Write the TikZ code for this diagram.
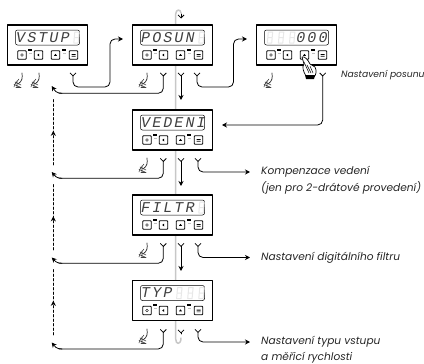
\documentclass[tikz,border=0pt]{standalone}
\usepackage{fontspec}
\setmainfont{Poppins}
\newfontfamily\segfont[LetterSpace=14]{Liberation Mono}
\usetikzlibrary{arrows.meta,decorations.markings,calc}

\tikzset{
	panel/.style={draw, line width=1.2pt, fill=white, minimum width=80pt, minimum height=40pt, inner sep=0pt},
	screen/.style={draw, line width=0.5pt, rounded corners=2pt, minimum width=64pt, minimum height=15pt, inner sep=0pt},
	button/.style={draw, line width=0.8pt, rounded corners=0.8pt, fill=white, minimum size=8.5pt, inner sep=0pt},
	word/.style={font=\segfont\itshape\fontsize{15}{15}\selectfont, text=black!75, inner sep=0pt, anchor=west},
	note/.style={font=\itshape\fontsize{10.6}{12}\selectfont, text=black!85, inner sep=0pt, anchor=west},
	conn/.style={line width=0.8pt, rounded corners=5pt, {Straight Barb[reversed,length=3pt,width=6pt]}-{Stealth[length=5pt,width=5pt]}},
	back/.style={line width=0.8pt, rounded corners=5pt, {Straight Barb[reversed,length=3pt,width=6pt]}-},
	guide/.style={draw=black!22, line width=1.5pt, line cap=round},
	dotline/.style={line width=0.8pt, dashed, dash pattern=on 2.5pt off 2pt, postaction={decorate},
		decoration={markings, mark=at position #1 with {\arrow[solid]{Stealth[length=5pt,width=5pt]}}}},
	relax/.pic={
		\draw[line width=0.7pt, black!85] (0,0) .. controls (0.5,5) and (0.5,8) .. (-4,11);
		\draw[line width=0.6pt, black!75] (-3,6) -- (-7,11) -- (-8,14) (-7,9) -- (-1,12) (-8,11.5) -- (-2,14) (-6,14.5) -- (-1,14.5) (-5,8) -- (-5,14);
	},
	blankcell/.pic={
		\draw[black!9, line width=1pt] (-2.2,5.5) -- (2.2,5.5) -- (3.2,-5.5) -- (-1.2,-5.5) -- cycle (-1.7,0) -- (2.7,0);
	},
}

% one instrument: name, corner position, text on the display, empty cells
\newcommand{\panelbox}[5]{
	\begin{scope}[shift={(#2,#3)}]
		\node[panel] (#1) at (40,20) {};
		\node[screen] (#1screen) at (40,12.5) {};
		\foreach \c in {#5}
			\pic at (13+11.1*\c,12.5) {blankcell};
		\node[word] (#1word) at (8.5,12.5) {#4};
		\foreach \i/\bx in {1/14.5, 2/31, 3/48, 4/66}
			\node[button] (#1b\i) at (\bx,30) {};
		\draw[line width=0.4pt] (#1b1) circle (1.4pt);
		\fill ($(#1b2)+(-1.3,0)$) -- ++(2,-1.5) -- ++(0,3) -- cycle;
		\fill ($(#1b3)+(-1.5,0.8)$) -- ++(3,0) -- ++(-1.5,-2) -- cycle;
		\fill ($(#1b4)+(-2,-1)$) rectangle ++(4,1) ($(#1b4)+(-2,1)$) rectangle ++(4,0.6);
		\foreach \bx in {22.7, 56.7} {
			\fill (\bx-2,23.5) rectangle ++(4,2);
			\fill[black!25] (\bx-1.5,27.5) rectangle ++(3,1);
		}
	\end{scope}
}

\begin{document}
\begin{tikzpicture}[x=1pt, y=-1pt, line cap=round, line join=round]
	\useasboundingbox (0,0) rectangle (424,364);
	
	% Gray path through the whole menu, behind the panels
	\draw[guide] (181,13) .. controls (181,9) and (175.7,9) .. (175.7,14) -- (175.7,339)
		.. controls (175.7,345) and (181,345) .. (181,338);
	\coordinate (topin) at (181,14);
	\coordinate (topend) at (181,18.5);
	\draw[line width=0.8pt, -{Straight Barb[length=3pt,width=6pt]}] (topin) -- (topend);
	\coordinate (botin) at (181,334);
	\coordinate (botend) at (181,329.5);
	\draw[line width=0.8pt, -{Straight Barb[reversed,length=3pt,width=6pt]}] (botin) -- (botend);
	
	% Panels
	\panelbox{vstup}{7.5}{25}{VSTUP}{5}
	\panelbox{posun}{132.5}{25}{POSUN}{5}
	\panelbox{nula}{256.5}{25}{\phantom{888}000}{0,1,2}
	\panelbox{vedeni}{132.5}{110}{VEDENI}{}
	\panelbox{filtr}{132.5}{195}{FILTR}{5}
	\panelbox{typ}{132.5}{280.5}{TYP}{3,4,5}
	
	% Labels
	\node[note, font=\itshape\fontsize{9.2}{10}\selectfont] (posunnote) at (341,75) {Nastavení posunu};
	\node[note] (kompone) at (261,172) {Kompenzace vedení};
	\node[note] (komptwo) at (261,188) {(jen pro 2-drátové provedení)};
	\node[note] (filtrnote) at (261,257.5) {Nastavení digitálního filtru};
	\node[note] (typone) at (261,342) {Nastavení typu vstupu};
	\node[note] (typtwo) at (261,358) {a měřicí rychlosti};
	
	% Ends of the connectors
	\coordinate (vstupout) at (73,72.5);
	\coordinate (posunin) at (123,39);
	\coordinate (posunback) at (163.3,72.5);
	\coordinate (vstupret) at (51.7,86);
	\coordinate (posundown) at (181,72.5);
	\coordinate (vedeniin) at (181,100);
	\coordinate (posunout) at (197,72.5);
	\coordinate (nulain) at (247,39);
	\coordinate (nulaout) at (322.7,72.5);
	\coordinate (vedeniright) at (222,125);
	\coordinate (vedeniback) at (163.3,158);
	\coordinate (vedeniret) at (51.7,172);
	\coordinate (vedenidown) at (181,158);
	\coordinate (filtrin) at (181,186);
	\coordinate (vedeniout) at (198,158);
	\coordinate (filtrback) at (163.3,243);
	\coordinate (filtrret) at (51.7,257.5);
	\coordinate (filtrdown) at (181,243);
	\coordinate (typin) at (181,271);
	\coordinate (filtrout) at (198,243);
	\coordinate (typback) at (163.3,329);
	\coordinate (typret) at (51.7,342.5);
	\coordinate (typout) at (198,329);
	
	% Connectors to the next step
	\draw[conn] (vstupout) |- (110,87) -- (110,39) -- (posunin);
	\draw[conn] (posunout) |- (233.5,87) -- (233.5,39) -- (nulain);
	\draw[conn] (nulaout) |- (vedeniright);
	\draw[conn] (posundown) -- (vedeniin);
	\draw[conn] (vedenidown) -- (filtrin);
	\draw[conn] (filtrdown) -- (typin);
	
	% Connectors to the notes
	\draw[conn, shorten >=11pt] (vedeniout) |- (kompone.west);
	\draw[conn, shorten >=11pt] (filtrout) |- (filtrnote.west);
	\draw[conn, shorten >=11pt] (typout) |- (typone.west);
	
	% Connectors back to the left
	\foreach \from/\dest/\yy in {posunback/vstupret/93.3, vedeniback/vedeniret/178.3, filtrback/filtrret/263.3, typback/typret/349} {
		\draw[back] (\from) |- (64,\yy) -- (62,\yy);
		\draw[line width=0.8pt, -{Stealth[length=5pt,width=5pt]}] (62,\yy) .. controls (56,\yy) and (54.5,\yy-3) .. (\dest);
	}
	
	% Dashed way back up
	\coordinate (dashone) at (53.3,98);
	\coordinate (dashtwo) at (53.3,165);
	\coordinate (dashthree) at (53.3,184);
	\coordinate (dashfour) at (53.3,250);
	\coordinate (dashfive) at (53.3,268);
	\coordinate (dashsix) at (53.3,335);
	\draw[dotline=0.51] (dashtwo) -- (dashone);
	\draw[dotline=0.51] (dashfour) -- (dashthree);
	\draw[dotline=0.51] (dashsix) -- (dashfive);
	
	% Release symbols
	\foreach \xx/\yy in {22/73, 39/73, 147/73, 272/73, 147/158, 147/243, 147/329}
		\pic at (\xx,\yy) {relax};
	
	% Hand on the button
	\draw[line width=0.7pt, fill=white] (302,57) .. controls (305,56) and (308,60) .. (310,64)
		-- (315,67) .. controls (317,71) and (316,75) .. (314,77) -- (306,76)
		.. controls (303,71) and (302,67) .. (304,64) -- cycle;
	\draw[line width=0.5pt] (304,62) -- (309,73) (307,65) -- (311,73) (310,66) -- (313,73);
	\fill (305,75) -- (315,75) -- (314,79) -- (306,79) -- cycle;
\end{tikzpicture}
\end{document}
